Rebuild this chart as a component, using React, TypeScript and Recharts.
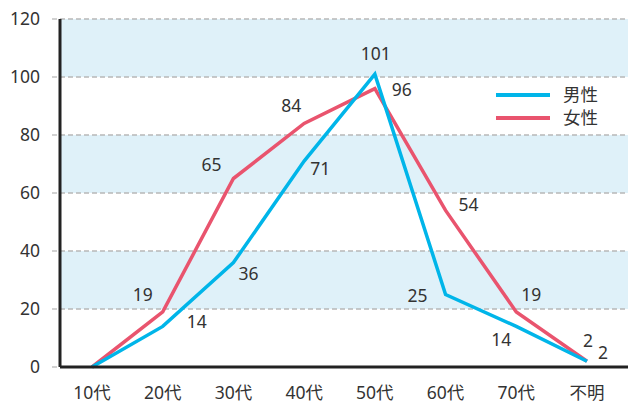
import React from 'react';
import { LineChart, Line, XAxis, YAxis, CartesianGrid, Legend } from 'recharts';

const ageGroups = ['10代', '20代', '30代', '40代', '50代', '60代', '70代', '不明'];
const maleCounts = [0, 14, 36, 71, 101, 25, 14, 2];
const femaleCounts = [0, 19, 65, 84, 96, 54, 19, 2];
const yTicks = [0, 20, 40, 60, 80, 100, 120];

const MALE = '#00b5e9';
const FEMALE = '#e9546e';
const BAND = '#dff1f9';
const FONT = "'Noto Sans', 'Noto Sans CJK JP', sans-serif";
const TEXT = '#333';

// label nudges (dx, dy) from each point, null = no label
const maleLabelPos: ([number, number] | null)[] = [null, [34, -5], [15, 10], [16, 7], [1, -21], [-28, 0], [-15, 13], [16, -9]];
const femaleLabelPos: ([number, number] | null)[] = [null, [-20, -18], [-22, -15], [-13, -18], [27, 0], [23, -6], [15, -18], [1, -21]];

const data = ageGroups.map((g, i) => ({ age: g, male: maleCounts[i], female: femaleCounts[i] }));

const makeLabel = (pos: ([number, number] | null)[], values: number[]) => (props: any) => {
  const { x, y, index } = props;
  const p = pos[index];
  if (!p) return null;
  return (
    <text key={index} x={x + p[0]} y={y + p[1]} textAnchor="middle" dominantBaseline="central"
      fontSize={17.5} fill={TEXT} fontFamily={FONT}>
      {values[index]}
    </text>
  );
};

const LegendBox = () => (
  <div style={{ fontFamily: FONT, fontSize: 17.5, color: TEXT, lineHeight: '23px' }}>
    {[['男性', MALE], ['女性', FEMALE]].map(([name, color]) => (
      <div key={name} style={{ display: 'flex', alignItems: 'center' }}>
        <span style={{ display: 'inline-block', width: 54, height: 4, background: color, marginRight: 13 }} />
        <span>{name}</span>
      </div>
    ))}
  </div>
);

export default function App() {
  return (
    <div style={{ position: 'absolute', left: 0, top: 0, background: '#fff' }}>
      <LineChart width={628} height={404} data={data} margin={{ top: 19, right: 0, left: 0, bottom: 0 }}>
        <CartesianGrid vertical={false} stroke="#b8b8b8" strokeDasharray="5 3" strokeWidth={1.3}
          horizontalFill={[BAND, 'transparent']} fillOpacity={1} />
        <XAxis dataKey="age" padding={{ left: 32, right: 41 }} tickLine={false} tickSize={0} tickMargin={20}
          axisLine={{ stroke: '#222', strokeWidth: 3 }}
          tick={{ fontSize: 17.5, fill: TEXT, fontFamily: FONT }} height={37} />
        <YAxis domain={[0, 120]} ticks={yTicks} width={60} tickSize={8} tickMargin={12}
          tickLine={{ stroke: '#b8b8b8', strokeDasharray: '5 3', strokeWidth: 1.3 }}
          axisLine={{ stroke: '#222', strokeWidth: 3 }}
          tick={{ fontSize: 17.5, fill: TEXT, fontFamily: FONT }} />
        <Legend layout="horizontal" verticalAlign="middle" align="center" content={<LegendBox />}
          wrapperStyle={{ left: 496, top: 83, width: 'auto' }} />
        <Line dataKey="female" name="女性" stroke={FEMALE} strokeWidth={3.5} dot={false} isAnimationActive={false}
          strokeLinejoin="miter" label={makeLabel(femaleLabelPos, femaleCounts)} />
        <Line dataKey="male" name="男性" stroke={MALE} strokeWidth={3.5} dot={false} isAnimationActive={false}
          strokeLinejoin="miter" label={makeLabel(maleLabelPos, maleCounts)} />
      </LineChart>
    </div>
  );
}
